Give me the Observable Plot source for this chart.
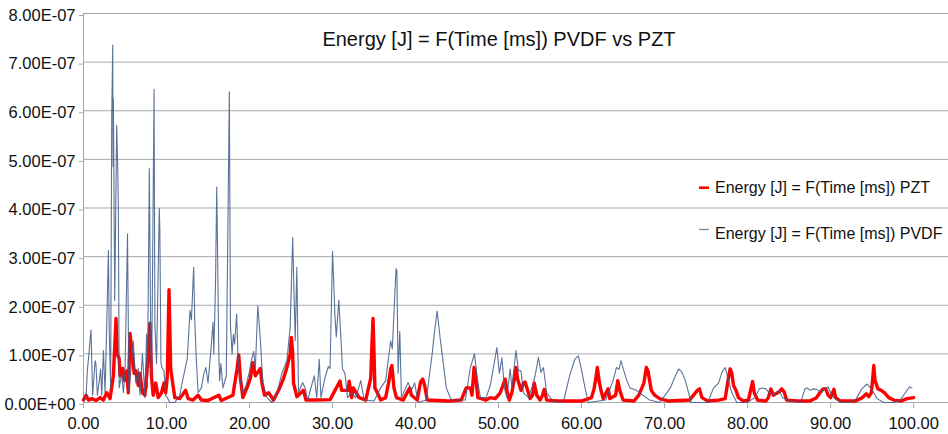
<!DOCTYPE html>
<html>
<head>
<meta charset="utf-8">
<script src="https://cdn.jsdelivr.net/npm/d3@7"></script>
<script src="https://cdn.jsdelivr.net/npm/@observablehq/plot@0.6"></script>
<style>
  html, body { margin: 0; padding: 0; background: #ffffff; }
  #chart { width: 948px; height: 434px; position: relative; }
</style>
</head>
<body>
<div id="chart"></div>
<script>
// ---- Data (energy values in units of 1e-7 J, time in ms) ----
const UNIT = 1e-7;
const chartTitle = "Energy [J] = F(Time [ms]) PVDF vs PZT";
const seriesNames = ["Energy [J] = F(Time [ms]) PZT", "Energy [J] = F(Time [ms]) PVDF"];
const xTicks = [0, 10, 20, 30, 40, 50, 60, 70, 80, 90, 100];
const yTicks = [0, 1, 2, 3, 4, 5, 6, 7, 8];

const pvdfTime = [0,0.3,0.46,0.6,0.9,1.1,1.4,1.5,1.67,1.9,2.06,2.2,2.4,2.6,2.8,3.0,3.1,3.27,3.4,3.52,3.56,3.6,3.76,4.0,4.12,4.2,4.3,4.6,4.8,5.0,5.3,5.47,5.67,6.0,6.3,6.6,6.8,7.1,7.4,7.6,7.7,7.93,8.1,8.2,8.5,8.6,8.8,9.13,9.2,9.33,9.5,9.7,9.9,10.1,10.4,11,11.6,12.0,12.5,12.83,13.0,13.27,13.4,13.6,13.8,14.2,14.5,14.75,15.0,15.3,15.6,15.7,15.9,16.05,16.15,16.3,16.4,16.55,16.8,17.2,17.57,17.7,17.9,18.05,18.2,18.45,18.6,18.8,19.2,19.6,20.0,20.2,20.5,20.7,21.0,21.3,21.6,22.1,22.7,23.3,23.9,24.5,24.9,25.2,25.5,25.7,25.9,26.4,26.7,27.0,27.8,28.1,28.4,28.6,29.1,29.5,29.7,30.0,30.3,30.45,30.75,31.0,31.2,31.5,31.8,32.3,32.8,33.4,33.8,35.0,35.8,36.4,37.0,37.2,37.65,37.75,37.9,38.1,38.3,39.1,39.5,39.9,40.3,41.3,41.7,42.0,42.25,42.6,43.0,43.2,43.7,44.3,46.0,46.6,47.1,47.4,47.8,48.5,49.0,49.8,50.1,50.4,50.7,51.0,51.4,51.6,52.1,52.4,52.7,53.0,53.6,54.1,54.4,54.8,55.1,55.4,55.8,56.6,57.8,58.6,59.2,59.6,59.9,60.3,60.8,62.9,63.8,64.2,64.5,64.75,65.0,65.45,65.85,66.6,67.4,68.2,69.4,70.7,71.3,71.7,72.1,72.5,73.2,75.2,75.9,76.5,76.9,77.3,77.7,78.1,78.7,79.9,80.9,81.4,81.8,82.2,82.6,83.2,83.8,84.2,84.8,86.4,86.9,87.2,87.5,87.9,88.3,88.9,89.3,89.7,90.0,90.5,91.3,92.3,93.1,93.75,94.4,94.8,95.2,95.6,96.4,97.6,98.4,99.0,99.5,99.8];
const pvdfEnergy = [0.02,0.1,0.65,0.9,1.49,0.15,0.86,0.8,0.15,0.45,0.69,0.15,1.07,0.2,1.6,3.13,1.5,0.3,5.88,7.35,4.85,6.25,2.1,5.7,4.85,4.0,0.3,0.6,0.2,0.6,3.47,0.2,0.6,1.27,0.4,0.7,0.15,1.0,0.1,1.41,0.3,4.81,1.3,0.3,6.44,1.6,0.8,3.99,3.5,0.8,0.7,0.65,0.15,0.1,0,0,0.15,0.5,0.9,1.89,1.7,2.78,1.7,0.85,0.2,0.3,0.6,0.72,0.4,0.98,1.65,1.0,2.4,4.43,3.1,0.98,0.45,0.8,0.3,0.55,6.39,1.6,1.0,1.4,1.2,1.82,1.0,0.5,0.2,0.35,0.65,0.85,1.05,0.7,1.99,1.3,0.4,0.1,0,0.2,0.6,0.86,1.55,3.39,1.27,2.78,0.2,0.41,0.3,0.05,0.55,0.1,0.89,0.1,0.52,0.74,0.7,3.11,1.75,1.35,2.1,1.35,0.69,0.6,0.1,0.2,0.1,0.45,0.05,0.03,0.3,0.45,1.27,1.1,2.75,2.7,0.6,1.46,0.1,0.41,0.25,0.4,0,0.05,0.6,1.0,1.4,1.88,1.27,1.0,0.3,0.05,0.05,0.72,1.0,0.55,0.1,0.1,0.35,1.13,0.6,0.92,0.3,0.1,0.69,0.3,1.07,0.65,0.65,0.2,0.1,0.35,0.55,0.93,0.62,0.72,0.2,0.02,0,0.58,0.89,0.96,0.75,0.4,0,0.05,0.45,0.72,0.68,0.86,0.7,0.45,0.3,0.25,0.15,0.05,0,0.3,0.55,0.69,0.62,0.45,0,0,0.3,0.4,0.62,0.72,0.45,0.2,0,0,0.1,0.28,0.3,0.28,0.2,0.15,0.25,0.1,0.05,0,0.28,0.3,0.25,0.28,0.27,0.2,0.3,0.32,0.2,0.08,0,0,0.08,0.28,0.38,0.3,0.2,0.08,0,0,0.05,0.2,0.32,0.3];

const pztTime = [0,0.3,0.6,1.0,1.5,2.0,2.4,2.8,3.2,3.6,3.92,4.05,4.3,4.4,4.72,4.9,5.2,5.4,5.6,5.8,6.1,6.3,6.6,6.8,7.1,7.4,7.6,7.8,8.0,8.2,8.4,8.7,9.0,9.4,9.7,9.9,10.1,10.3,10.5,10.7,11.0,11.6,12.3,12.6,13.2,13.8,14.2,15.0,16.3,16.6,18.0,18.5,18.7,18.9,19.2,19.8,20.1,20.4,20.7,21.1,21.3,21.5,21.8,22.3,22.9,23.5,24.07,24.5,24.9,25.04,25.2,25.3,25.7,26.5,26.8,28.0,29.7,30.9,31.1,31.9,32.0,32.3,32.5,33.2,34.0,34.6,34.75,34.88,35.0,35.1,35.4,35.8,36.4,36.8,37.0,37.15,37.4,37.7,38.5,39.3,39.5,40.2,40.6,40.87,41.1,41.4,44.0,45.5,46.1,46.6,46.8,47.05,47.2,47.5,48.5,49.0,49.6,50.2,50.8,51.0,51.3,51.6,51.9,52.1,52.3,52.7,53.0,53.2,53.5,53.8,54.1,54.3,54.6,55.0,55.3,55.5,55.8,57.0,60.0,61.2,61.5,61.7,61.9,62.1,62.3,62.6,63.2,63.4,64.1,64.36,64.6,65.0,66.3,66.9,67.5,67.8,68.0,68.2,68.4,68.8,69.4,70.5,73.0,73.95,74.2,74.5,75.2,76.5,77.3,77.7,77.9,78.1,78.3,78.6,78.9,79.5,80.1,80.4,80.6,80.8,81.2,82.2,82.5,82.8,83.1,83.8,84.1,84.4,84.7,86.0,87.5,88.3,88.7,89.1,89.4,89.7,90.0,90.4,90.6,91.2,93.0,93.8,94.3,94.6,94.9,95.05,95.2,95.35,95.7,96.1,96.5,97.0,97.6,98.5,99.2,100.0];
const pztEnergy = [0.05,0.15,0.05,0.08,0.04,0.1,0.05,0.2,0.08,0.55,1.73,1.0,0.9,0.55,0.7,0.45,0.65,0.2,1.42,1.1,0.6,0.65,0.35,0.6,0.2,0.15,0.55,0.95,1.63,0.5,0.15,0.4,0.1,0.2,0.4,0.2,0.55,2.32,0.7,0.45,0.1,0.08,0.25,0.08,0.05,0.15,0.05,0.04,0.15,0.04,0.15,0.7,0.98,0.5,0.1,0.35,0.5,0.82,0.55,0.65,0.7,0.4,0.15,0.2,0.05,0.25,0.48,0.72,1.0,1.34,1.0,0.4,0.12,0.25,0.05,0.05,0.06,0.44,0.25,0.25,0.44,0.1,0.3,0.1,0.05,0.5,1.2,1.73,1.0,0.3,0.2,0.05,0.1,0.45,0.69,0.76,0.3,0.1,0.05,0.3,0.15,0.05,0.42,0.48,0.35,0.05,0.03,0.05,0.3,0.3,0.15,0.72,0.6,0.1,0.05,0.1,0.08,0.2,0.48,0.25,0.05,0.2,0.48,0.72,0.48,0.25,0.4,0.42,0.25,0.08,0.15,0.4,0.15,0.05,0.15,0.27,0.05,0.03,0.03,0.1,0.28,0.48,0.72,0.45,0.28,0.08,0.28,0.08,0.15,0.45,0.25,0.05,0.03,0.15,0.4,0.72,0.65,0.45,0.25,0.15,0.08,0.03,0.05,0.25,0.28,0.1,0.03,0.05,0.08,0.52,0.69,0.6,0.35,0.25,0.1,0.03,0.05,0.28,0.43,0.2,0.05,0.03,0.1,0.28,0.15,0.22,0.28,0.22,0.05,0.03,0.03,0.1,0.2,0.28,0.28,0.15,0.1,0.27,0.1,0.03,0.03,0.1,0.18,0.12,0.2,0.45,0.76,0.45,0.28,0.25,0.2,0.1,0.05,0.03,0.08,0.1];

// ---- Build tables ----
const pzt = pztTime.map((t, i) => ({t, e: pztEnergy[i] * UNIT}));
const pvdf = pvdfTime.map((t, i) => ({t, e: pvdfEnergy[i] * UNIT}));

function sciFmt(v) {
  const [m, ex] = v.toExponential(2).split("e");
  const sign = ex[0] === "-" ? "-" : "+";
  const digits = String(Math.abs(+ex)).padStart(2, "0");
  return m + "E" + sign + digits;
}

const FONT = "'Liberation Sans', Arial, sans-serif";
const GRID = "#a9a9a9";
const PZT_COLOR = "#ff0000";
const PVDF_COLOR = "#3d5a8a";

const chart = Plot.plot({
  width: 948,
  height: 434,
  marginLeft: 83,
  marginRight: 0,
  marginTop: 13,
  marginBottom: 32,
  style: {fontFamily: FONT, fontSize: "16.5px", color: "#111", background: "#fff", overflow: "visible"},
  x: {domain: [0, 104.2]},
  y: {domain: [0, 8 * UNIT]},
  marks: [
    Plot.ruleY(yTicks.map(d => d * UNIT), {stroke: GRID, strokeWidth: 1}),
    Plot.ruleX([0], {stroke: GRID, strokeWidth: 1}),
    Plot.axisY(yTicks.map(d => d * UNIT), {tickSize: 4, tickPadding: 4, tickFormat: sciFmt, stroke: GRID, fontSize: 16.5, dy: 2, label: null}),
    Plot.axisX(xTicks, {tickSize: 6, tickPadding: 9, tickFormat: d => d.toFixed(2), stroke: GRID, fontSize: 16.5, label: null}),
    Plot.line(pzt, {x: "t", y: "e", stroke: PZT_COLOR, strokeWidth: 3.4, strokeLinejoin: "round"}),
    Plot.line(pvdf, {x: "t", y: "e", stroke: PVDF_COLOR, strokeWidth: 1.1, strokeOpacity: 0.85, strokeLinejoin: "round"})
  ]
});

// title and legend (inside the plot area, as in the reference)
const svg = d3.select(chart);
svg.append("text")
  .attr("x", 499).attr("y", 45.5)
  .attr("text-anchor", "middle")
  .attr("font-family", FONT).attr("font-size", 20).attr("fill", "#111")
  .text(chartTitle);

const legend = svg.append("g").attr("text-anchor", "start");
const legendItems = [
  {name: seriesNames[0], color: PZT_COLOR, w: 2.6, y: 193.3, ly: 187.7},
  {name: seriesNames[1], color: "#7d8ca4", w: 1.4, y: 239.3, ly: 229.5}
];
legendItems.forEach(it => {
  legend.append("line").attr("x1", 699).attr("x2", 709).attr("y1", it.ly).attr("y2", it.ly)
    .attr("stroke", it.color).attr("stroke-width", it.w);
  legend.append("text").attr("x", 715).attr("y", it.y)
    .attr("text-anchor", "start")
    .attr("font-family", FONT).attr("font-size", 16).attr("fill", "#111")
    .text(it.name);
});

document.getElementById("chart").append(chart);
</script>
</body>
</html>
